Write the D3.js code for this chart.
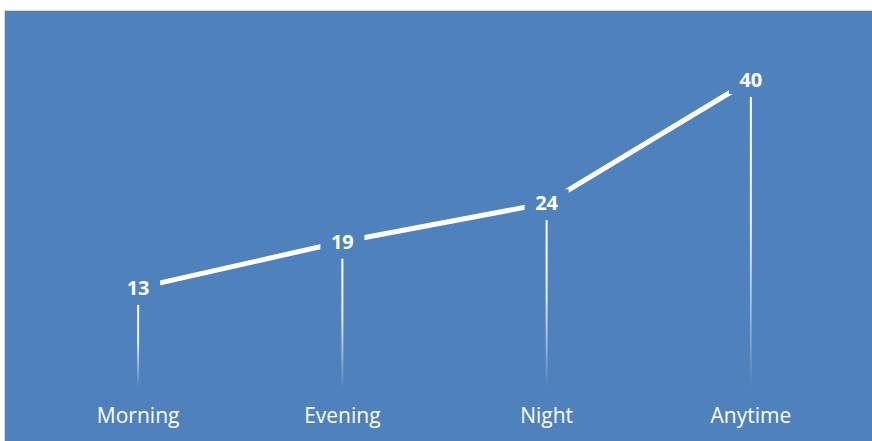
<!DOCTYPE html>
<html>
<head>
<meta charset="utf-8">
<script src="https://cdn.jsdelivr.net/npm/d3@7"></script>
<style>
  body { margin: 0; background: #fff; }
</style>
</head>
<body>
<div id="viz"></div>
<script>
const categories = ['Morning', 'Evening', 'Night', 'Anytime'];
const values = [13, 19, 24, 40];
const bg = '#4f81bd';

const dimensions = {
  width: 872,
  height: 441,
  margin: {top: 80, right: 19, bottom: 53, left: 36},
}
dimensions.boundedWidth = dimensions.width - dimensions.margin.left - dimensions.margin.right
dimensions.boundedHeight = dimensions.height - dimensions.margin.top - dimensions.margin.bottom

const data = categories.map((c, i) => ({cat: c, value: values[i]}))

const wrapper = d3.select('#viz')
  .append('svg')
  .attr('width', dimensions.width)
  .attr('height', dimensions.height)

// plot area background
wrapper.append('rect')
  .attr('x', 4.5)
  .attr('y', 10.5)
  .attr('width', dimensions.width)
  .attr('height', dimensions.height)
  .attr('fill', bg)
  .attr('stroke', '#d9d9d9')
  .attr('stroke-width', 1)

const defs = wrapper.append('defs')
const grad = defs.append('linearGradient')
  .attr('id', 'dropFade')
  .attr('x1', 0).attr('y1', 0).attr('x2', 0).attr('y2', 1)
grad.append('stop').attr('offset', '0%').attr('stop-color', '#fff').attr('stop-opacity', 1)
grad.append('stop').attr('offset', '45%').attr('stop-color', '#fff').attr('stop-opacity', 0.85)
grad.append('stop').attr('offset', '100%').attr('stop-color', '#fff').attr('stop-opacity', 0)

const chart = wrapper.append('g')
  .attr('transform', `translate(${dimensions.margin.left},${dimensions.margin.top})`)

// scales
const xScale = d3.scaleBand()
  .domain(categories)
  .range([0, dimensions.boundedWidth])

const yScale = d3.scaleLinear()
  .domain([0, 40])
  .range([dimensions.boundedHeight, 0])

const cx = d => xScale(d.cat) + xScale.bandwidth() / 2

// drop lines
chart.selectAll('.drop')
  .data(data)
  .join('rect')
  .attr('class', 'drop')
  .attr('x', d => cx(d) - 1)
  .attr('y', d => yScale(d.value) + 17)
  .attr('width', 2)
  .attr('height', d => yScale(0) - yScale(d.value) - 17)
  .attr('fill', 'url(#dropFade)')

// line
const lineGenerator = d3.line()
  .x(d => cx(d))
  .y(d => yScale(d.value))

chart.append('path')
  .attr('d', lineGenerator(data))
  .attr('fill', 'none')
  .attr('stroke', '#fff')
  .attr('stroke-width', 5)

// value labels with knockout box
const labels = chart.selectAll('.val')
  .data(data)
  .join('g')
  .attr('class', 'val')
  .attr('transform', d => `translate(${cx(d)},${yScale(d.value)})`)

labels.append('rect')
  .attr('x', -22)
  .attr('y', -14)
  .attr('width', 44)
  .attr('height', 28)
  .attr('fill', bg)

labels.append('text')
  .attr('text-anchor', 'middle')
  .attr('dy', '0.35em')
  .style('font-family', '"Open Sans", sans-serif')
  .style('font-weight', 'bold')
  .style('font-size', '20px')
  .style('fill', '#fff')
  .text(d => d.value)

// category axis
const xAxisGenerator = d3.axisBottom().scale(xScale).tickSize(0).tickPadding(0)

const xAxis = chart.append('g')
  .attr('transform', `translate(0,${dimensions.boundedHeight + 28})`)
  .call(xAxisGenerator)

xAxis.select('.domain').remove()
xAxis.selectAll('text')
  .attr('dy', '0.35em')
  .style('font-family', '"Open Sans", sans-serif')
  .style('font-size', '21px')
  .style('fill', '#fff')
</script>
</body>
</html>
